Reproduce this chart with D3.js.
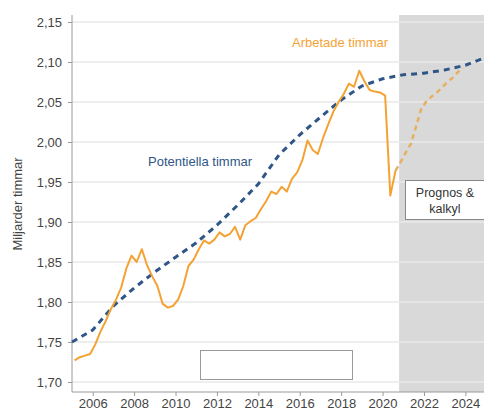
<!DOCTYPE html>
<html><head><meta charset="utf-8">
<script src="https://cdn.jsdelivr.net/npm/d3@7/dist/d3.min.js"></script>
<style>body{margin:0;background:#fff}svg{display:block;font-family:"Liberation Sans",Arial,sans-serif}</style>
</head><body><svg id="c" width="484" height="412"></svg>
<script>
// Quarterly data, starting 2005 Q1 (points placed at quarter midpoints)
const startYear = 2005;
const arbetade = [1.727,1.731,1.733,1.735,1.747,1.763,1.776,1.791,1.803,1.818,1.842,1.858,1.850,1.866,1.846,1.832,
  1.820,1.798,1.793,1.795,1.803,1.820,1.845,1.853,1.866,1.877,1.873,1.878,1.887,1.882,1.885,1.894,
  1.878,1.896,1.901,1.905,1.916,1.926,1.938,1.935,1.944,1.938,1.954,1.962,1.977,2.002,1.990,1.985,
  2.005,2.022,2.038,2.050,2.060,2.073,2.069,2.089,2.076,2.065,2.063,2.062,2.058,1.933,1.964];
// Forecast continues from 2020 Q3
const prognos = [1.964,1.975,1.987,1.998,2.020,2.042,2.051,2.057,2.062,2.068,2.075,2.080,2.087,2.093];
const prognosStartIndex = 62;
// Potential hours, annual
const potYears = [2005,2006,2007,2008,2009,2010,2011,2012,2013,2014,2015,2016,2017,2018,2019,2020,2021,2022,2023,2024,2024.9];
const potential = [1.750,1.765,1.795,1.8175,1.8375,1.856,1.874,1.896,1.921,1.9475,1.984,2.009,2.031,2.0525,2.070,2.079,2.084,2.086,2.090,2.096,2.105];
const yTicks = [1.70,1.75,1.80,1.85,1.90,1.95,2.00,2.05,2.10,2.15];
const xTicks = [2006,2008,2010,2012,2014,2016,2018,2020,2022,2024];
const forecastStart = 2020.8;

const svg = d3.select("#c");
const x = d3.scaleLinear().domain([2005, 2024.9]).range([72, 484]);
const y = d3.scaleLinear().domain([1.6875, 2.15875]).range([392, 15]);
const qt = i => startYear + (i + 0.5) / 4;

// forecast shading
svg.append("rect").attr("x", x(forecastStart)).attr("y", y(2.15875))
  .attr("width", x(2024.9) - x(forecastStart)).attr("height", y(1.6875) - y(2.15875))
  .attr("fill", "#d9d9d9");

// gridlines
svg.append("g").selectAll("line").data(yTicks).join("line")
  .attr("x1", 72).attr("x2", 484).attr("y1", d => y(d)).attr("y2", d => y(d))
  .attr("stroke", "#e9e9e9").attr("stroke-width", 1.5);

// axes
const fmt = d => d3.format(".2f")(d).replace(".", ",");
const yAxis = svg.append("g").attr("transform", "translate(72,0)")
  .call(d3.axisLeft(y).tickValues(yTicks).tickFormat(fmt).tickSize(4).tickPadding(6));
const xAxis = svg.append("g").attr("transform", "translate(0,392)")
  .call(d3.axisBottom(x).tickValues(xTicks).tickFormat(d3.format("d")).tickSize(4).tickPadding(3));
[yAxis, xAxis].forEach(a => {
  a.select(".domain").attr("stroke", "#9a9a9a");
  a.selectAll(".tick line").attr("stroke", "#9a9a9a");
  a.selectAll("text").attr("fill", "#444").attr("font-size", 13);
});
xAxis.select(".domain").attr("d", "M72,0H484");
yAxis.select(".domain").attr("d", "M0,0V-377").attr("transform", "translate(0,392)");

// y label
svg.append("text").attr("transform", "translate(22,204) rotate(-90)")
  .attr("text-anchor", "middle").attr("font-size", 13).attr("fill", "#444").text("Miljarder timmar");

// lines
const line = d3.line().x(d => x(d[0])).y(d => y(d[1]));
svg.append("path").datum(potYears.map((t, i) => [t, potential[i]]))
  .attr("d", line).attr("fill", "none").attr("stroke", "#2f5687")
  .attr("stroke-width", 3).attr("stroke-dasharray", "6,5");
svg.append("path").datum(prognos.map((v, i) => [qt(prognosStartIndex + i), v]))
  .attr("d", line).attr("fill", "none").attr("stroke", "#e6b062")
  .attr("stroke-width", 2.5).attr("stroke-dasharray", "5,4");
svg.append("path").datum(arbetade.map((v, i) => [qt(i), v]))
  .attr("d", line).attr("fill", "none").attr("stroke", "#f4a234")
  .attr("stroke-width", 2).attr("stroke-linejoin", "round");

// labels
svg.append("text").attr("x", 292).attr("y", 47).attr("font-size", 13)
  .attr("fill", "#f4a234").text("Arbetade timmar");
svg.append("text").attr("x", 148).attr("y", 166).attr("font-size", 13)
  .attr("fill", "#2f5687").text("Potentiella timmar");

// Prognos box
svg.append("rect").attr("x", 405.5).attr("y", 180.5).attr("width", 90).attr("height", 39)
  .attr("fill", "#fff").attr("stroke", "#888");
svg.append("text").attr("x", 445).attr("y", 197).attr("text-anchor", "middle")
  .attr("font-size", 12.5).attr("fill", "#333").text("Prognos &");
svg.append("text").attr("x", 445).attr("y", 213).attr("text-anchor", "middle")
  .attr("font-size", 12.5).attr("fill", "#333").text("kalkyl");

// empty box
svg.append("rect").attr("x", 200.5).attr("y", 350.5).attr("width", 152).attr("height", 29)
  .attr("fill", "#fff").attr("stroke", "#999");
</script></body></html>
